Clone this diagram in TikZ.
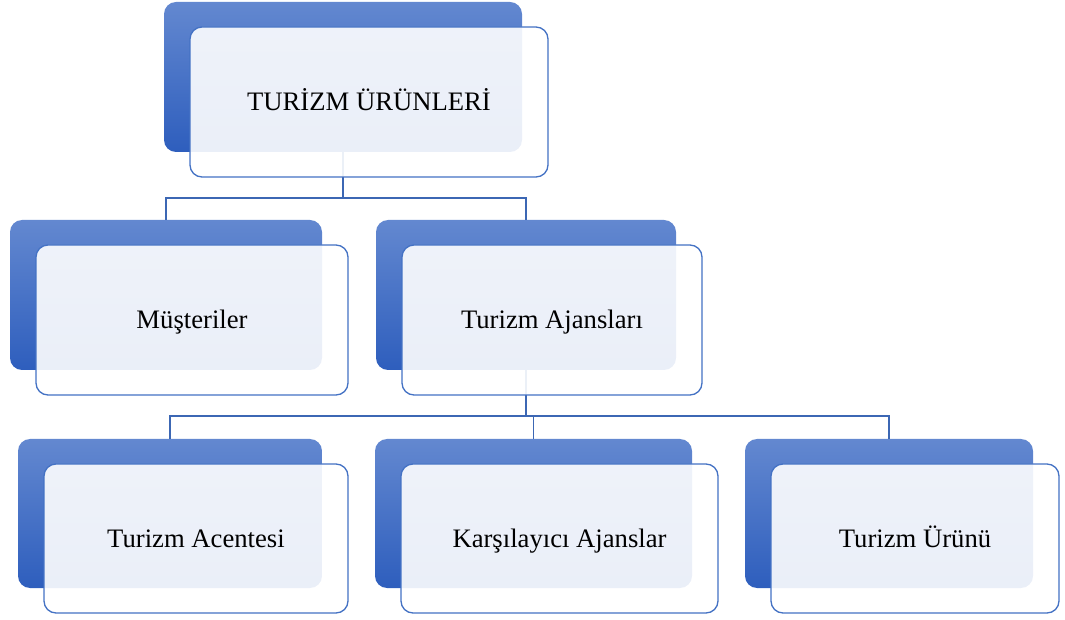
\documentclass[tikz,border=0pt]{standalone}
\usepackage{fontspec}
\setmainfont{Liberation Serif}
\definecolor{boxline}{RGB}{68,114,196}
\definecolor{connline}{RGB}{60,103,180}
\definecolor{backtop}{RGB}{99,136,208}
\definecolor{backbot}{RGB}{46,94,189}
\begin{document}
\begin{tikzpicture}[x=0.75pt,y=-0.75pt,
  backbox/.style={rounded corners=9pt, top color=backtop, bottom color=backbot,
    draw=none, inner sep=0pt, outer sep=0pt},
  frontbox/.style={rounded corners=9pt, fill=white, fill opacity=0.9, text opacity=1,
    draw=boxline, draw opacity=1, line width=1pt, inner sep=0pt, outer sep=0pt,
    font=\fontsize{20}{24}\selectfont, text=black, text height=15pt, text depth=2pt},
  conn/.style={draw=connline, line width=0.9pt}]
\useasboundingbox (0,0) rectangle (1065,620);

% #1 name, (#2,#3) centre of the back panel, #4 x #5 size in px
\newcommand\backpanel[5]{%
  \node[backbox, minimum width=#4*0.75pt, minimum height=#5*0.75pt] (#1-b) at (#2,#3) {};}
\newcommand\frontpanel[6]{%
  \node[frontbox, minimum width=#4*0.75pt, minimum height=#5*0.75pt] (#1-f) at (#2+26,#3+25) {#6};}

% back panels
\backpanel{top}{343}{77}{358}{150}
\backpanel{mus}{166}{295}{312}{150}
\backpanel{aja}{526}{295}{300}{150}
\backpanel{ace}{170}{513.5}{304}{149}
\backpanel{kar}{533.5}{513.5}{317}{149}
\backpanel{uru}{889}{513.5}{288}{149}

% connectors
\draw[conn] (top-b.south) -- ++(0,46) coordinate (bus1);
\draw[conn] (bus1) -| (mus-b.north);
\draw[conn] (bus1) -| (aja-b.north);
\draw[conn] (aja-b.south) -- ++(0,46) coordinate (bus2);
\draw[conn] (bus2) -| (ace-b.north);
\draw[conn] (bus2) -| (kar-b.north);
\draw[conn] (bus2) -| (uru-b.north);

% front panels with labels
\frontpanel{top}{343}{77}{358}{150}{TURİZM ÜRÜNLERİ}
\frontpanel{mus}{166}{295}{312}{150}{Müşteriler}
\frontpanel{aja}{526}{295}{300}{150}{Turizm Ajansları}
\frontpanel{ace}{170}{513.5}{304}{149}{Turizm Acentesi}
\frontpanel{kar}{533.5}{513.5}{317}{149}{Karşılayıcı Ajanslar}
\frontpanel{uru}{889}{513.5}{288}{149}{Turizm Ürünü}
\end{tikzpicture}
\end{document}
